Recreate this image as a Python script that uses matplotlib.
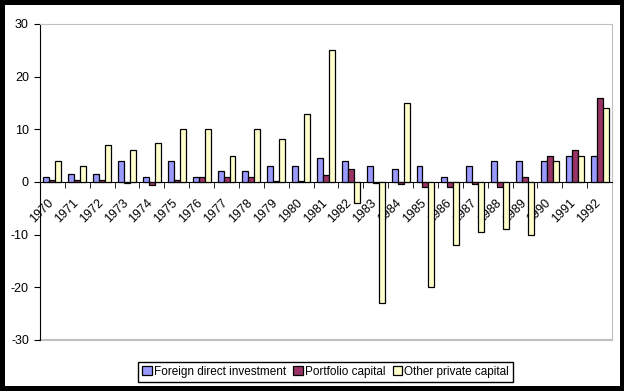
import numpy as np
import matplotlib.pyplot as plt
from matplotlib.patches import Rectangle

years = [str(y) for y in range(1970, 1993)]
fdi = [1, 1.5, 1.5, 4, 1, 4, 1, 2, 2, 3, 3, 4.5, 4, 3, 2.5, 3, 1, 3, 4, 4, 4, 5, 5]
portfolio = [0.3, 0.4, 0.3, -0.2, -0.5, 0.3, 1, 1, 1, 0.2, 0.2, 1.3, 2.5, -0.1, -0.3, -1, -1, -0.3, -1, 1, 5, 6, 16]
other = [4, 3, 7, 6, 7.4, 10, 10, 5, 10, 8.1, 13, 25, -4, -23, 15, -20, -12, -9.5, -9, -10, 4, 5, 14]

plt.rcParams['font.family'] = ['Liberation Sans', 'DejaVu Sans']
plt.rcParams['font.size'] = 9
plt.rcParams['axes.unicode_minus'] = False

fig = plt.figure(figsize=(6.24, 3.91), dpi=100)
fig.patch.set_facecolor('black')
fig.add_artist(Rectangle((4.5 / 624, 5 / 391), 615.5 / 624, 381.5 / 391,
                         transform=fig.transFigure, facecolor='white',
                         edgecolor='none', zorder=-10))

ax = fig.add_axes([40 / 624, 1 - 340 / 391, 572 / 624, 316 / 391])

x = np.arange(len(years))
w = 0.24
kw = dict(edgecolor='black', linewidth=0.9, zorder=3)
ax.bar(x - w, fdi, w, color='#9999FF', label='Foreign direct investment', **kw)
ax.bar(x, portfolio, w, color='#993366', label='Portfolio capital', **kw)
ax.bar(x + w, other, w, color='#FFFFCC', label='Other private capital', **kw)

ax.set_xlim(-0.5, len(years) - 0.5)
ax.set_ylim(-30, 30)
ax.set_yticks([-30, -20, -10, 0, 10, 20, 30])

ax.spines['bottom'].set_position(('data', 0))
ax.spines['bottom'].set_color('black')
ax.spines['left'].set_color('black')
ax.spines['top'].set_color('#c0c0c0')
ax.spines['right'].set_color('#c0c0c0')
ax.axhline(-30, color='#c0c0c0', linewidth=1.5, zorder=1, clip_on=False)

ax.set_xticks(np.arange(len(years) + 1) - 0.5, minor=True)
ax.set_xticks(x - 0.2)
ax.set_xticklabels(years, rotation=45, ha='right', va='top', rotation_mode='anchor')
ax.tick_params(axis='x', which='major', length=0, pad=11)
ax.tick_params(axis='x', which='minor', length=4, direction='out')
ax.tick_params(axis='y', length=4, direction='out', pad=4)

leg = fig.legend(loc='center', bbox_to_anchor=(0.522, 0.0486), ncol=3,
                 fancybox=False, edgecolor='black', framealpha=1,
                 handlelength=0.8, handleheight=0.8, handletextpad=0.2,
                 columnspacing=0.6, borderpad=0.35, fontsize=8.5)
leg.get_frame().set_linewidth(1)

fig.savefig('out.png', dpi=100, facecolor=fig.get_facecolor())
